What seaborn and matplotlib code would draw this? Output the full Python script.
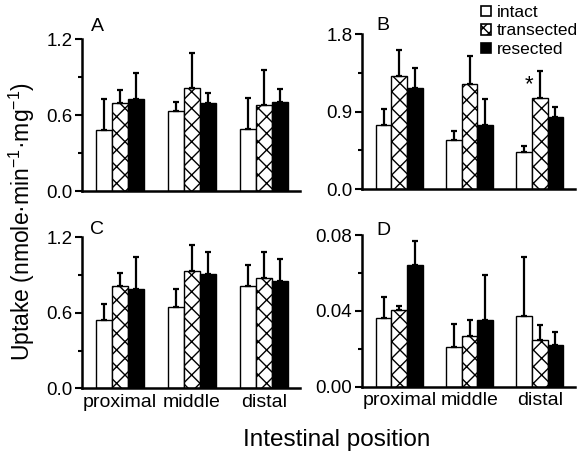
import numpy as np
import pandas as pd
import matplotlib
matplotlib.use("Agg")
import matplotlib.pyplot as plt
from matplotlib.ticker import MultipleLocator, FormatStrFormatter
from matplotlib.patches import Patch
import seaborn as sns

positions = ["proximal", "middle", "distal"]
conditions = ["intact", "transected", "resected"]

# panel A
A_intact = [0.478, 0.63, 0.491]
A_intact_sem = [0.25, 0.07, 0.24]
A_trans = [0.696, 0.811, 0.675]
A_trans_sem = [0.10, 0.28, 0.28]
A_resect = [0.73, 0.693, 0.704]
A_resect_sem = [0.20, 0.08, 0.10]
# panel B
B_intact = [0.75, 0.57, 0.43]
B_intact_sem = [0.18, 0.11, 0.07]
B_trans = [1.315, 1.22, 1.055]
B_trans_sem = [0.30, 0.33, 0.32]
B_resect = [1.18, 0.745, 0.84]
B_resect_sem = [0.23, 0.30, 0.11]
# panel C
C_intact = [0.54, 0.65, 0.81]
C_intact_sem = [0.13, 0.14, 0.17]
C_trans = [0.81, 0.935, 0.875]
C_trans_sem = [0.11, 0.20, 0.21]
C_resect = [0.79, 0.905, 0.85]
C_resect_sem = [0.25, 0.18, 0.18]
# panel D
D_intact = [0.036, 0.021, 0.0375]
D_intact_sem = [0.0114, 0.012, 0.031]
D_trans = [0.0404, 0.027, 0.0246]
D_trans_sem = [0.0023, 0.008, 0.008]
D_resect = [0.064, 0.035, 0.022]
D_resect_sem = [0.013, 0.024, 0.007]

panels = {
    "A": ([A_intact, A_trans, A_resect], [A_intact_sem, A_trans_sem, A_resect_sem], 1.2, 0.6, 0.3, "%.1f"),
    "B": ([B_intact, B_trans, B_resect], [B_intact_sem, B_trans_sem, B_resect_sem], 1.8, 0.9, 0.45, "%.1f"),
    "C": ([C_intact, C_trans, C_resect], [C_intact_sem, C_trans_sem, C_resect_sem], 1.2, 0.6, 0.3, "%.1f"),
    "D": ([D_intact, D_trans, D_resect], [D_intact_sem, D_trans_sem, D_resect_sem], 0.08, 0.04, 0.02, "%.2f"),
}

sns.set_style("ticks")
plt.rcParams["font.family"] = ["Liberation Sans", "DejaVu Sans"]
plt.rcParams["hatch.linewidth"] = 1.0
for k in ["axes.edgecolor", "text.color", "axes.labelcolor", "xtick.color", "ytick.color"]:
    plt.rcParams[k] = "black"

W, H = 583, 451
fig = plt.figure(figsize=(W / 100, H / 100), dpi=100)

# axes rectangles in pixels: left, right, top, bottom
rects = {
    "A": (82, 300, 39, 191),
    "B": (362, 575, 34.3, 189),
    "C": (82, 300, 237.3, 388.3),
    "D": (362, 575, 235, 386.7),
}
letter_pos = {"A": (0.07, 1.085), "B": (0.10, 1.06), "C": (0.07, 1.05), "D": (0.10, 1.03)}

palette = {"intact": "white", "transected": "white", "resected": "black"}

for key, (means, sems, ymax, major, minor, fmt) in panels.items():
    l, r, t, b = rects[key]
    ax = fig.add_axes([l / W, (H - b) / H, (r - l) / W, (b - t) / H])
    rows = []
    for ci, cond in enumerate(conditions):
        for pi, pos in enumerate(positions):
            rows.append({"position": pos, "condition": cond, "value": means[ci][pi]})
    df = pd.DataFrame(rows)
    sns.barplot(data=df, x="position", y="value", hue="condition", order=positions,
                hue_order=conditions, palette=palette, edgecolor="black", linewidth=1.0,
                width=0.667, errorbar=None, legend=False, saturation=1, ax=ax)
    bar_conts = list(ax.containers)
    for ci, cont in enumerate(bar_conts):
        for pi, bar in enumerate(cont):
            if ci == 1:
                bar.set_hatch("xx")
            xc = bar.get_x() + bar.get_width() / 2
            ax.errorbar(xc, bar.get_height(), yerr=[[0], [sems[ci][pi]]], fmt="none",
                        ecolor="black", elinewidth=1.6, capsize=2.2, capthick=1.6, zorder=1)
    ax.set_xlim(-0.53, 2.5)
    ax.set_ylim(0, ymax)
    ax.yaxis.set_major_locator(MultipleLocator(major))
    ax.yaxis.set_minor_locator(MultipleLocator(minor))
    ax.yaxis.set_major_formatter(FormatStrFormatter(fmt))
    sns.despine(ax=ax)
    for s in ["left", "bottom"]:
        ax.spines[s].set_linewidth(1.8)
    ax.tick_params(axis="y", which="major", direction="out", length=5, width=1.5, labelsize=13.5, pad=2)
    ax.tick_params(axis="y", which="minor", direction="out", length=3, width=1.5)
    ax.tick_params(axis="x", length=0, labelsize=14, pad=4)
    ax.set_xlabel("")
    ax.set_ylabel("")
    if key in ("A", "B"):
        ax.set_xticklabels([])
    ax.text(letter_pos[key][0], letter_pos[key][1], key, transform=ax.transAxes,
            ha="center", va="center", fontsize=14)
    if key == "B":
        ax.text(1.84, 1.21, "*", ha="center", va="center", fontsize=16)

handles = [Patch(facecolor="white", edgecolor="black", lw=1.2),
           Patch(facecolor="white", edgecolor="black", hatch="xxx", lw=1.2),
           Patch(facecolor="black", edgecolor="black", lw=1.2)]
fig.legend(handles, conditions, loc="upper left", bbox_to_anchor=(481 / W, 1 - 5 / H),
           frameon=False, fontsize=12.5, handlelength=0.55, handleheight=0.55,
           handletextpad=0.35, labelspacing=0.2, borderpad=0, borderaxespad=0)

fig.text(22 / W, 1 - 221 / H, "Uptake (nmole\u00b7min$^{\\mathregular{-1}}$\u00b7mg$^{\\mathregular{-1}}$)",
         rotation=90, ha="center", va="center", fontsize=16.5)
fig.text(337 / W, 1 - 440 / H, "Intestinal position", ha="center", va="center", fontsize=17.5)

fig.savefig("out.png", dpi=100)
